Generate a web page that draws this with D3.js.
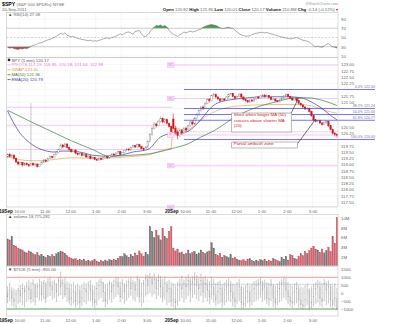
<!DOCTYPE html>
<html><head><meta charset="utf-8">
<script src="https://cdn.jsdelivr.net/npm/d3@7"></script>
<style>
html,body{margin:0;padding:0;background:#fff;}
svg{display:block;font-family:"Liberation Sans",Arial,sans-serif;}
</style></head><body>
<svg id="chart" width="400" height="324"></svg>
<script>
// ---- SPY 5-minute bars, 19-20 Sep 2011 (78 bars per session) ----
const opens = [
119.30,119.40,119.32,119.38,119.25,119.10,119.02,119.08,118.98,119.05,
119.00,118.95,119.05,118.98,119.02,118.92,119.00,119.10,119.18,119.12,
119.25,119.32,119.28,119.40,119.48,119.60,119.78,119.70,119.82,119.68,
119.60,119.52,119.58,119.45,119.40,119.44,119.36,119.40,119.30,119.34,
119.24,119.28,119.20,119.18,119.25,119.20,119.28,119.32,119.26,119.35,
119.42,119.38,119.46,119.52,119.40,119.48,119.56,119.62,119.58,119.68,
119.75,119.70,119.80,119.72,119.64,119.60,119.70,119.92,120.20,120.45,
120.62,120.55,120.72,120.85,120.70,120.80,120.65,120.52,
120.82,120.45,120.30,120.15,120.35,120.25,120.45,120.38,120.55,120.70,
120.62,120.85,121.00,121.15,121.30,121.25,121.45,121.60,121.55,121.75,
121.80,121.70,121.62,121.55,121.62,121.58,121.70,121.80,121.84,121.72,
121.65,121.72,121.82,121.70,121.60,121.55,121.50,121.58,121.54,121.62,
121.70,121.66,121.74,121.78,121.72,121.76,121.68,121.60,121.62,121.55,
121.52,121.58,121.66,121.74,121.80,121.72,121.66,121.58,121.64,121.55,
121.45,121.38,121.30,121.22,121.25,121.12,120.95,120.78,120.72,120.76,
120.66,120.60,120.68,120.72,120.55,120.40,120.25,120.20];
const highs = [
119.45,119.46,119.42,119.40,119.28,119.14,119.12,119.10,119.08,119.09,
119.04,121.45,119.08,119.06,119.04,119.03,119.13,119.22,119.21,119.28,
119.36,119.35,119.43,119.52,119.64,119.84,119.82,119.88,119.85,119.71,
119.63,119.62,119.60,119.48,119.47,119.46,119.43,119.42,119.37,119.36,
119.31,119.30,119.23,119.28,119.27,119.31,119.35,119.34,119.38,119.45,
119.45,119.49,119.56,119.54,119.51,119.59,119.66,119.65,119.71,119.79,
119.78,119.84,119.83,119.75,119.68,119.74,119.98,120.26,120.52,120.70,
120.68,120.78,120.93,120.88,120.86,120.83,120.68,120.55,
121.04,120.55,120.40,120.40,120.42,120.50,120.52,120.60,120.75,120.76,
120.90,121.05,121.20,121.35,121.36,121.50,121.65,121.66,121.80,121.85,
121.84,121.74,121.66,121.66,121.66,121.74,121.83,121.86,121.86,121.75,
121.76,121.85,121.84,121.73,121.63,121.58,121.62,121.62,121.66,121.74,
121.73,121.78,121.82,121.81,121.80,121.78,121.71,121.66,121.64,121.58,
121.62,121.70,121.78,121.84,121.83,121.75,121.69,121.68,121.67,121.58,
121.48,121.42,121.34,121.30,121.28,121.15,120.98,120.82,120.80,120.79,
120.70,120.72,120.78,120.75,120.58,120.44,120.30,120.25];
const lows = [
119.25,119.28,119.26,119.20,119.06,118.96,118.98,118.92,118.94,118.95,
118.90,118.92,118.94,118.93,118.88,118.89,118.97,119.06,119.08,119.10,
119.21,119.24,119.25,119.36,119.45,119.57,119.65,119.67,119.64,119.55,
119.48,119.49,119.41,119.36,119.36,119.32,119.33,119.27,119.26,119.20,
119.21,119.17,119.14,119.15,119.17,119.18,119.25,119.23,119.24,119.32,
119.35,119.35,119.43,119.37,119.38,119.45,119.53,119.54,119.55,119.65,
119.66,119.68,119.69,119.60,119.55,119.57,119.67,119.88,120.15,120.40,
120.48,120.52,120.68,120.65,120.66,120.60,120.47,120.28,
120.40,120.20,120.01,120.10,120.18,120.22,120.32,120.34,120.50,120.56,
120.58,120.80,120.95,121.10,121.18,121.22,121.40,121.48,121.52,121.70,
121.66,121.58,121.50,121.52,121.54,121.55,121.67,121.76,121.68,121.61,
121.62,121.69,121.66,121.56,121.51,121.46,121.47,121.50,121.51,121.59,
121.62,121.63,121.71,121.68,121.69,121.64,121.56,121.56,121.51,121.48,
121.49,121.55,121.63,121.71,121.68,121.62,121.54,121.55,121.51,121.41,
121.34,121.26,121.18,121.18,121.08,120.90,120.74,120.68,120.68,120.62,
120.56,120.57,120.64,120.50,120.36,120.21,120.12,120.08];
const closes = [
119.40,119.32,119.38,119.25,119.10,119.02,119.08,118.98,119.05,119.00,
118.95,119.05,118.98,119.02,118.92,119.00,119.10,119.18,119.12,119.25,
119.32,119.28,119.40,119.48,119.60,119.78,119.70,119.82,119.68,119.60,
119.52,119.58,119.45,119.40,119.44,119.36,119.40,119.30,119.34,119.24,
119.28,119.20,119.18,119.25,119.20,119.28,119.32,119.26,119.35,119.42,
119.38,119.46,119.52,119.40,119.48,119.56,119.62,119.58,119.68,119.75,
119.70,119.80,119.72,119.64,119.60,119.70,119.92,120.20,120.45,120.62,
120.55,120.72,120.85,120.70,120.80,120.65,120.52,120.31,
120.45,120.30,120.15,120.35,120.25,120.45,120.38,120.55,120.70,120.62,
120.85,121.00,121.15,121.30,121.25,121.45,121.60,121.55,121.75,121.80,
121.70,121.62,121.55,121.62,121.58,121.70,121.80,121.84,121.72,121.65,
121.72,121.82,121.70,121.60,121.55,121.50,121.58,121.54,121.62,121.70,
121.66,121.74,121.78,121.72,121.76,121.68,121.60,121.62,121.55,121.52,
121.58,121.66,121.74,121.80,121.72,121.66,121.58,121.64,121.55,121.45,
121.38,121.30,121.22,121.25,121.12,120.95,120.78,120.72,120.76,120.66,
120.60,120.68,120.72,120.55,120.40,120.25,120.20,120.17];

// volume per bar, millions of shares
const volumes = [
5.7,5.5,6.2,4.4,4.2,3.8,3.6,3.4,3.0,2.8,
3.2,3.0,2.6,2.4,2.9,2.2,2.5,2.0,1.8,2.3,
2.0,2.4,2.1,2.6,2.9,3.1,3.0,2.7,2.2,1.9,
1.7,1.5,1.6,1.3,1.4,1.2,1.5,1.1,1.3,1.0,
1.2,1.4,1.1,0.9,1.2,1.0,1.3,1.1,1.4,1.2,
1.5,1.3,1.7,2.1,2.0,2.6,2.2,1.8,2.4,2.1,
2.8,2.3,3.2,2.6,2.1,2.9,2.4,8.3,7.2,6.0,
7.5,6.4,5.5,7.9,6.2,5.8,7.3,8.3,
3.8,3.2,3.6,2.8,3.0,2.5,2.7,3.4,2.6,2.9,
3.1,2.4,2.8,3.4,2.9,2.6,3.0,3.2,4.9,3.8,
2.5,2.2,2.7,1.9,2.3,2.0,1.8,2.4,1.7,1.9,
1.5,1.3,1.2,1.4,1.1,1.5,1.6,1.2,1.0,1.3,
1.1,1.4,1.2,1.5,1.0,1.3,1.1,1.6,1.4,1.2,
1.0,1.8,1.5,2.1,1.3,2.4,2.3,1.7,1.5,2.0,
2.6,2.2,3.1,2.7,3.3,3.8,4.2,3.6,3.4,2.9,
3.6,2.8,3.3,4.0,3.1,6.2,4.8,10.1];

// RSI(14)
const rsi = [
29,27,28,26,25,24,26,25,27,26,
28,31,33,34,36,38,39,41,43,45,
46,48,50,53,56,59,57,60,55,53,
52,52,50,48,47,46,45,44,43,44,
42,43,42,44,45,47,48,49,47,50,
51,53,55,58,56,59,61,62,60,57,
63,64,65,58,53,52,56,62,68,72,
76,75,77,74,76,72,66,60,
57,55,52,56,58,62,60,62,64,62,
63,65,67,68,72,74,76,77,78,77,
76,74,71,69,70,71,72,70,70,66,
62,58,56,54,53,53,54,56,58,59,
60,61,61,60,61,59,58,57,55,54,
52,51,50,49,48,47,48,49,50,48,
46,44,43,42,40,36,32,30,31,30,
29,32,35,37,33,30,29,27.08];

// NYSE $TICK 5-minute bars
const tickOpen = [
100,-200,150,-300,-500,-100,200,-150,300,100,
400,250,-350,600,-200,400,500,-100,600,-300,
700,450,200,600,100,800,400,600,-100,300,
-400,-300,100,-500,200,-600,-300,300,100,500,
200,-400,-600,300,500,700,100,-500,200,600,
100,500,700,400,-200,600,100,500,700,300,
600,200,900,-200,-100,600,900,500,1000,600,
900,300,800,400,-200,600,100,300,
-500,-400,-600,200,500,300,600,400,800,200,
700,900,500,300,800,100,600,200,-200,400,
-100,-400,100,300,-500,200,400,500,100,-300,
-500,200,400,-600,-700,-300,100,-500,200,300,
500,600,700,200,400,-300,-400,500,-300,-600,
100,300,600,700,200,-200,-500,-600,100,300,
-400,-700,-800,-400,200,-900,-600,-200,300,400,
-300,-500,600,200,400,-400,-700,-300];
const tickHigh = [
420,650,380,300,200,350,520,610,480,720,
830,700,880,560,640,900,760,820,690,940,
1050,780,860,620,980,1360,900,1020,740,650,
580,700,520,610,480,550,690,620,760,830,
540,460,700,880,950,720,560,640,780,690,
860,980,1020,740,880,610,790,920,1000,850,
760,1100,900,680,820,1200,1150,1280,1100,1240,
980,1180,1080,900,1050,760,850,700,
600,480,720,900,1100,860,1000,1200,940,1050,
1300,1150,1000,1250,980,1100,900,760,1020,880,
640,720,800,560,690,840,920,780,600,520,
700,880,450,380,520,640,480,600,760,820,
900,1000,780,860,700,640,900,560,480,620,
760,880,1000,940,700,560,480,620,700,520,
400,360,500,620,300,420,580,700,820,760,
640,900,720,800,560,480,600,350];
const tickLow = [
-640,-520,-820,-900,-960,-700,-600,-750,-880,-540,
-420,-650,-560,-780,-300,-460,-520,-380,-640,-250,
-180,-420,-320,-560,-200,-100,-380,-260,-540,-720,
-800,-640,-900,-760,-960,-820,-580,-700,-480,-520,
-860,-940,-760,-420,-300,-560,-880,-720,-440,-600,
-380,-240,-120,-560,-360,-700,-480,-300,-180,-420,
-520,-260,-600,-840,-640,-200,-100,20,-220,-60,
-380,-160,-300,-580,-420,-760,-620,-840,
-900,-1000,-800,-500,-300,-600,-400,-200,-560,-300,
-100,-400,-500,-200,-600,-300,-520,-700,-400,-600,
-820,-700,-640,-900,-760,-600,-480,-560,-840,-920,
-700,-500,-960,-1000,-860,-640,-900,-760,-560,-480,
-400,-300,-520,-440,-700,-820,-500,-880,-960,-760,
-600,-480,-300,-420,-700,-860,-940,-760,-640,-900,
-1000,-1050,-900,-760,-1100,-980,-840,-700,-600,-820,
-900,-500,-760,-640,-900,-1000,-860,-1080];
const tickClose = [
-200,150,-300,-500,-100,200,-150,300,100,400,
250,-350,600,-200,400,500,-100,600,-300,700,
450,200,600,100,800,400,600,-100,300,-400,
-300,100,-500,200,-600,-300,300,100,500,200,
-400,-600,300,500,700,100,-500,200,600,100,
500,700,400,-200,600,100,500,700,300,600,
200,900,-200,-100,600,900,500,1000,600,900,
300,800,400,-200,600,100,300,-500,
-400,-600,200,500,300,600,400,800,200,700,
900,500,300,800,100,600,200,-200,400,-100,
-400,100,300,-500,200,400,500,100,-300,-500,
200,400,-600,-700,-300,100,-500,200,300,500,
600,700,200,400,-300,-400,500,-300,-600,100,
300,600,700,200,-200,-500,-600,100,300,-400,
-700,-800,-400,200,-900,-600,-200,300,400,-300,
-500,600,200,400,-400,-700,-300,-955];

// overlay curves, [bar, price] readings
const ema20 = [[0,121.14],[3,120.64],[6,120.24],[9,119.97],[12,119.77],[17,119.57],[22,119.5],[26,119.54],[31,119.53],[36,119.46],[40,119.37],[47,119.33],[53,119.37],[59,119.5],[66,119.6],[72,120.1],[77,120.24],[84,120.3],[91,120.8],[96,121.3],[100,121.5],[110,121.64],[122,121.71],[132,121.71],[138,121.67],[143,121.5],[148,121.24],[153,120.9],[155,120.79]];
const ma50 = [[0,121.17],[10,120.75],[20,120.35],[30,119.95],[40,119.6],[48,119.33],[58,119.37],[67,119.43],[77,119.63],[85,119.83],[91,120.1],[96,120.3],[100,120.5],[106,120.85],[116,121.25],[126,121.5],[135,121.66],[141,121.67],[148,121.57],[155,121.36]];
const vwapDay1 = [[0,119.32],[5,119.2],[12,119.15],[20,119.18],[30,119.27],[40,119.25],[50,119.27],[60,119.33],[67,119.4],[72,119.55],[77,119.65]];
const vwapDay2 = [[78,120.6],[80,120.45],[84,120.38],[88,120.55],[92,120.85],[96,121.05],[100,121.2],[110,121.35],[125,121.4],[138,121.4],[145,121.3],[150,121.15],[155,121.05]];

// floor pivots
const pivotNames = ["R2","R1","P","S1","S2"];
const pivotsDay2 = [122.98,121.64,120.18,118.95,117.29];
const pivotsDay1 = [121.29,120.57,119.60];
const prevClose = 120.31;

// retracement from 120.00 to 122.00
const fibStartBar = 83;
const fibPct = ["0.0%","38.2%","50.0%","61.8%","100.0%"];
const fibLevels = [122.00,121.24,121.00,120.77,120.00];

// time axis
const timeTickBars = [6,18,30,42,54,66,84,96,108,120,132,144];
const timeTickLabels = ["10:00","11:00","12:00","1:00","2:00","3:00","10:00","11:00","12:00","1:00","2:00","3:00"];
const dayLabelBars = [6,84];
const dayLabels = ["19Sep","20Sep"];

const notes = [
  {lines:["Short when longer MA (50)","crosses above shorter MA","(20)."], bar0:106, bar1:134, top:121.06, bottom:120.30, anchorBar:134, anchorPrice:121.06, targetBar:137, targetPrice:121.67},
  {lines:["Partial ambush zone"], bar0:106, bar1:137, top:119.90, bottom:119.66, anchorBar:136.5, anchorPrice:119.78, targetBar:145, targetPrice:120.82}
];

// ---- layout ----
const N = closes.length;
const svg = d3.select("#chart");
const X0 = 6.5, X1 = 338;
const x = d3.scaleLinear().domain([0, N]).range([X0, X1]);
const cx = i => x(i + 0.5);
const bw = (x(1) - x(0)) * 0.7;
const P = {
  rsi:   {top: 12.5, bottom: 57.5},
  price: {top: 57.5, bottom: 207},
  vol:   {top: 214.5, bottom: 266},
  tick:  {top: 266, bottom: 316}
};
const yR = d3.scaleLinear().domain([0, 100]).range([60.6, 14.4]);
const yP = d3.scaleLinear().domain([117.5, 123]).range([202, 64.5]);
const yV = d3.scaleLinear().domain([0, 10]).range([266.3, 218.3]);
const yT = d3.scaleLinear().domain([-1000, 1000]).range([309, 277.3]);

const FS = 4.3;
const gray = "#666";

const defs = svg.append("defs");
Object.entries(P).forEach(([k, p]) => {
  defs.append("clipPath").attr("id", "clip-" + k)
    .append("rect").attr("x", X0).attr("y", p.top).attr("width", X1 - X0).attr("height", p.bottom - p.top);
});

function panelGrid(key, scale, ticks) {
  const p = P[key];
  const g = svg.append("g").attr("clip-path", `url(#clip-${key})`);
  g.selectAll("line.h").data(ticks).join("line")
    .attr("x1", X0).attr("x2", X1).attr("y1", d => scale(d)).attr("y2", d => scale(d))
    .attr("stroke", "#e2e2e2").attr("stroke-width", 0.5).attr("stroke-dasharray", "1,1");
  g.selectAll("line.v").data(timeTickBars).join("line")
    .attr("x1", d => x(d)).attr("x2", d => x(d)).attr("y1", p.top).attr("y2", p.bottom)
    .attr("stroke", "#dcdcdc").attr("stroke-width", 0.5).attr("stroke-dasharray", "1,1");
}
function panelFrame(key) {
  const p = P[key];
  svg.append("rect").attr("x", X0).attr("y", p.top).attr("width", X1 - X0).attr("height", p.bottom - p.top)
    .attr("fill", "none").attr("stroke", "#c4c4c4").attr("stroke-width", 0.6);
}
function rightAxis(scale, ticks, fmt) {
  const g = svg.append("g").attr("transform", `translate(${X1},0)`)
    .call(d3.axisRight(scale).tickValues(ticks).tickFormat(fmt).tickSize(0).tickPadding(3));
  g.select(".domain").remove();
  g.selectAll("text").attr("font-size", FS).attr("fill", gray).attr("font-family", "Liberation Sans, Arial, sans-serif");
  return g;
}
function timeAxis(yPos) {
  const g = svg.append("g").attr("transform", `translate(0,${yPos})`)
    .call(d3.axisBottom(x).tickValues(timeTickBars).tickFormat((d, i) => timeTickLabels[i]).tickSize(0).tickPadding(0));
  g.select(".domain").remove();
  g.selectAll("text").attr("font-size", FS).attr("fill", gray).attr("dy", "0.35em")
    .attr("font-family", "Liberation Sans, Arial, sans-serif");
  g.selectAll("text.day").data(dayLabelBars).join("text").attr("class", "day")
    .attr("x", d => x(d) - 6.5).attr("y", 0).attr("dy", "0.35em").attr("text-anchor", "end")
    .attr("font-size", FS + 0.3).attr("font-weight", "bold").attr("fill", "#111")
    .text((d, i) => dayLabels[i]);
}

// ---- header ----
const head = svg.append("text").attr("x", 2).attr("y", 5.5).attr("font-size", FS);
head.append("tspan").attr("font-weight", "bold").attr("font-size", 5.2).attr("fill", "#000").text("$SPY");
head.append("tspan").attr("fill", gray).text(" (S&P 500 SPDRs) NYSE");
svg.append("text").attr("x", 2).attr("y", 11.3).attr("font-size", FS).attr("fill", gray).text("20-Sep-2011");
svg.append("text").attr("x", X1).attr("y", 4.8).attr("text-anchor", "end").attr("font-size", 3.8).attr("fill", "#999").text("@StockCharts.com");
const quote = [["Open","120.82"],["High","121.86"],["Low","120.01"],["Close","120.17"],["Volume","210.8M"],["Chg","-0.14 (-0.12%)"]];
const q = svg.append("text").attr("x", X1).attr("y", 11.3).attr("text-anchor", "end").attr("font-size", FS);
quote.forEach(([k, v], i) => {
  q.append("tspan").attr("font-weight", "bold").attr("fill", "#111").text((i ? " " : "") + k + " ");
  q.append("tspan").attr("fill", gray).text(v);
});
q.append("tspan").attr("fill", "#c00").text(" \u25BE");

// ---- RSI panel ----
panelGrid("rsi", yR, [10, 90]);
const gR = svg.append("g").attr("clip-path", "url(#clip-rsi)");
gR.append("path").datum(rsi)
  .attr("d", d3.area().x((d, i) => cx(i)).y0(yR(70)).y1(d => yR(Math.max(d, 70))))
  .attr("fill", "#4f9a4f");
gR.append("path").datum(rsi)
  .attr("d", d3.area().x((d, i) => cx(i)).y0(yR(30)).y1(d => yR(Math.min(d, 30))))
  .attr("fill", "#a84848");
[70, 30].forEach(v => gR.append("line").attr("x1", X0).attr("x2", X1).attr("y1", yR(v)).attr("y2", yR(v))
  .attr("stroke", "#aaa").attr("stroke-width", 0.6));
gR.append("line").attr("x1", X0).attr("x2", X1).attr("y1", yR(50)).attr("y2", yR(50))
  .attr("stroke", "#aaa").attr("stroke-width", 0.5).attr("stroke-dasharray", "2,1.5");
gR.append("path").datum(rsi).attr("d", d3.line().x((d, i) => cx(i)).y(d => yR(d)))
  .attr("fill", "none").attr("stroke", "#666").attr("stroke-width", 0.55);
panelFrame("rsi");
rightAxis(yR, [90, 70, 50, 30, 10], d3.format("d"));
svg.append("text").attr("x", 8).attr("y", 16).attr("font-size", FS).attr("fill", gray)
  .html('<tspan fill="#2a6a2a">\u25B2</tspan> RSI(14) 27.08');

// ---- price panel ----
const priceTicks = d3.range(0, 23).map(i => 117.5 + i * 0.25);
// axis labels that sit under a retracement tag are left out
const priceLabelTicks = priceTicks.filter(t => !fibLevels.some(f => Math.abs(f - t) < 0.05));
panelGrid("price", yP, priceTicks);
const gP = svg.append("g").attr("clip-path", "url(#clip-price)");
// pivots
gP.selectAll("line.pv1").data(pivotsDay1).join("line")
  .attr("x1", x(0)).attr("x2", x(78)).attr("y1", d => yP(d)).attr("y2", d => yP(d))
  .attr("stroke", "#f0b0f0").attr("stroke-width", 0.7);
gP.selectAll("line.pv2").data(pivotsDay2).join("line")
  .attr("x1", x(78)).attr("x2", x(N)).attr("y1", d => yP(d)).attr("y2", d => yP(d))
  .attr("stroke", "#f0b0f0").attr("stroke-width", 0.7);
// previous close
gP.append("line").attr("x1", x(78)).attr("x2", x(N)).attr("y1", yP(prevClose)).attr("y2", yP(prevClose))
  .attr("stroke", "#9a8ad0").attr("stroke-width", 0.6).attr("stroke-dasharray", "0.8,0.8");
// moving averages
const knotLine = d3.line().x(d => cx(d[0])).y(d => yP(d[1])).curve(d3.curveMonotoneX);
gP.append("path").attr("d", knotLine(vwapDay1)).attr("fill", "none").attr("stroke", "#e6a85a").attr("stroke-width", 0.7);
gP.append("path").attr("d", knotLine(vwapDay2)).attr("fill", "none").attr("stroke", "#e6a85a").attr("stroke-width", 0.7);
gP.append("line").attr("x1", cx(77)).attr("x2", cx(78)).attr("y1", yP(vwapDay1[vwapDay1.length - 1][1])).attr("y2", yP(vwapDay2[0][1]))
  .attr("stroke", "#e6a85a").attr("stroke-width", 0.7);
gP.append("path").attr("d", knotLine(ma50)).attr("fill", "none").attr("stroke", "#3b7d3b").attr("stroke-width", 0.7);
gP.append("path").attr("d", knotLine(ema20)).attr("fill", "none").attr("stroke", "#3a3aa8").attr("stroke-width", 0.7);
// candles
const bars = d3.range(N).map(i => ({i, o: opens[i], h: highs[i], l: lows[i], c: closes[i], down: closes[i] < opens[i]}));
gP.selectAll("line.wick").data(bars).join("line")
  .attr("x1", d => cx(d.i)).attr("x2", d => cx(d.i)).attr("y1", d => yP(d.h)).attr("y2", d => yP(d.l))
  .attr("stroke", d => d.down ? "#c81818" : "#9a9a9a").attr("stroke-width", 0.55);
gP.selectAll("rect.body").data(bars).join("rect")
  .attr("x", d => cx(d.i) - bw / 2).attr("width", bw)
  .attr("y", d => yP(Math.max(d.o, d.c))).attr("height", d => Math.max(0.6, Math.abs(yP(d.o) - yP(d.c))))
  .attr("fill", d => d.down ? "#e01010" : "#fff")
  .attr("stroke", d => d.down ? "#c81818" : "#8a8a8a").attr("stroke-width", 0.4);
// pivot tags
const tagG = svg.append("g");
pivotsDay2.forEach((v, k) => {
  const tx = x(78) - 1.5, ty = yP(v);
  tagG.append("rect").attr("x", tx - 3.3).attr("y", ty - 2.2).attr("width", 6.6).attr("height", 4.4)
    .attr("fill", "#fbe4fb").attr("stroke", "#e6a0e6").attr("stroke-width", 0.4);
  tagG.append("text").attr("x", tx).attr("y", ty).attr("dy", "0.35em").attr("text-anchor", "middle")
    .attr("font-size", 3.6).attr("fill", "#d27ad2").text(pivotNames[k]);
});
// retracement lines
const fibEnd = 375;
svg.selectAll("line.fib").data(fibLevels).join("line")
  .attr("x1", cx(fibStartBar)).attr("x2", fibEnd).attr("y1", d => yP(d)).attr("y2", d => yP(d))
  .attr("stroke", "#3a3af0").attr("stroke-width", 0.7);
svg.selectAll("text.fib").data(fibLevels).join("text")
  .attr("x", fibEnd).attr("y", d => yP(d) - 1.1).attr("text-anchor", "end")
  .attr("font-size", 3.6).attr("fill", "#777").text((d, i) => fibPct[i] + "  " + d.toFixed(2));
panelFrame("price");
rightAxis(yP, priceLabelTicks, d3.format(".2f"));
// legend
const legend = [
  {t: "SPY (5 min) 120.17", c: "#555", icon: "sq"},
  {t: "PIVOTS 117.29, 118.95, 120.18, 121.64, 122.98", c: "#e27ae2", icon: "ln", lc: "#f0b0f0"},
  {t: "VWAP 121.05", c: "#d8923a", icon: "ln", lc: "#e6a85a"},
  {t: "MA(50) 121.36", c: "#3b7d3b", icon: "ln", lc: "#3b7d3b"},
  {t: "EMA(20) 120.79", c: "#3a3aa8", icon: "ln", lc: "#3a3aa8"}
];
legend.forEach((d, k) => {
  const ly = 60 + k * 4.9;
  if (d.icon === "sq") svg.append("rect").attr("x", 7.8).attr("y", ly - 1.3).attr("width", 2.4).attr("height", 2.4).attr("fill", "#222");
  else svg.append("line").attr("x1", 7.5).attr("x2", 10.5).attr("y1", ly).attr("y2", ly).attr("stroke", d.lc).attr("stroke-width", 0.8);
  svg.append("text").attr("x", 11.5).attr("y", ly).attr("dy", "0.35em").attr("font-size", FS).attr("fill", d.c).text(d.t);
});
// callouts
notes.forEach(n => {
  const bx = x(n.bar0), bx1 = x(n.bar1), by = yP(n.top), by1 = yP(n.bottom);
  svg.append("line").attr("x1", x(n.anchorBar)).attr("y1", yP(n.anchorPrice)).attr("x2", cx(n.targetBar)).attr("y2", yP(n.targetPrice))
    .attr("stroke", "#333").attr("stroke-width", 0.7);
  svg.append("rect").attr("x", bx).attr("y", by).attr("width", bx1 - bx).attr("height", by1 - by)
    .attr("fill", "#fff").attr("stroke", "#8a8a8a").attr("stroke-width", 0.6);
  n.lines.forEach((t, k) => svg.append("text").attr("x", bx + 2).attr("y", by + 3.4 + k * 5.3)
    .attr("font-size", 4.4).attr("fill", "#d02020").text(t));
});
timeAxis(211.8);

// ---- volume panel ----
panelGrid("vol", yV, [2, 4, 6, 8, 10]);
const gV = svg.append("g").attr("clip-path", "url(#clip-vol)");
gV.selectAll("rect").data(bars).join("rect")
  .attr("x", d => cx(d.i) - bw / 2).attr("width", bw)
  .attr("y", d => yV(volumes[d.i])).attr("height", d => yV(0) - yV(volumes[d.i]))
  .attr("fill", d => d.down ? "#d4606c" : "#777").attr("stroke", d => d.down ? "#b84452" : "#5a5a5a").attr("stroke-width", 0.3);
panelFrame("vol");
rightAxis(yV, [2, 4, 6, 8, 10], d => d + "M");
svg.append("text").attr("x", 8).attr("y", 217.6).attr("font-size", FS).attr("fill", gray)
  .html('<tspan fill="#333">\u25B2</tspan> volume 18,775,282');

// ---- $TICK panel ----
panelGrid("tick", yT, [-500, 0, 500, 1500]);
const gT = svg.append("g").attr("clip-path", "url(#clip-tick)");
gT.append("line").attr("x1", X0).attr("x2", X1).attr("y1", yT(1000)).attr("y2", yT(1000)).attr("stroke", "#f07f7f").attr("stroke-width", 0.8);
gT.append("line").attr("x1", X0).attr("x2", X1).attr("y1", yT(-1000)).attr("y2", yT(-1000)).attr("stroke", "#2f8a2f").attr("stroke-width", 0.8);
gT.append("line").attr("x1", x(78)).attr("x2", X1).attr("y1", yT(560)).attr("y2", yT(560))
  .attr("stroke", "#8a7ad0").attr("stroke-width", 0.6).attr("stroke-dasharray", "0.8,0.8");
const tb = d3.range(N).map(i => ({i, o: tickOpen[i], h: tickHigh[i], l: tickLow[i], c: tickClose[i]}));
gT.selectAll("rect").data(tb.filter(d => d.c < d.o)).join("rect")
  .attr("x", d => cx(d.i) - bw / 2).attr("width", bw)
  .attr("y", d => yT(d.o)).attr("height", d => yT(d.c) - yT(d.o))
  .attr("fill", "#dedede");
gT.selectAll("line.tk").data(tb).join("line")
  .attr("x1", d => cx(d.i)).attr("x2", d => cx(d.i)).attr("y1", d => yT(d.h)).attr("y2", d => yT(d.l))
  .attr("stroke", "#9a9a9a").attr("stroke-width", 0.55);
gT.selectAll("circle").data(tb).join("circle")
  .attr("cx", d => cx(d.i)).attr("cy", d => yT(d.c)).attr("r", 0.35).attr("fill", "#555");
panelFrame("tick");
rightAxis(yT, [1500, 1000, 500, 0, -500, -1000], d3.format("d"));
svg.append("text").attr("x", 8).attr("y", 271.3).attr("font-size", FS).attr("fill", gray)
  .html('<tspan fill="#333">\u25BC</tspan> $TICK (5 min) -955.00');
timeAxis(320);
</script>
</body></html>
